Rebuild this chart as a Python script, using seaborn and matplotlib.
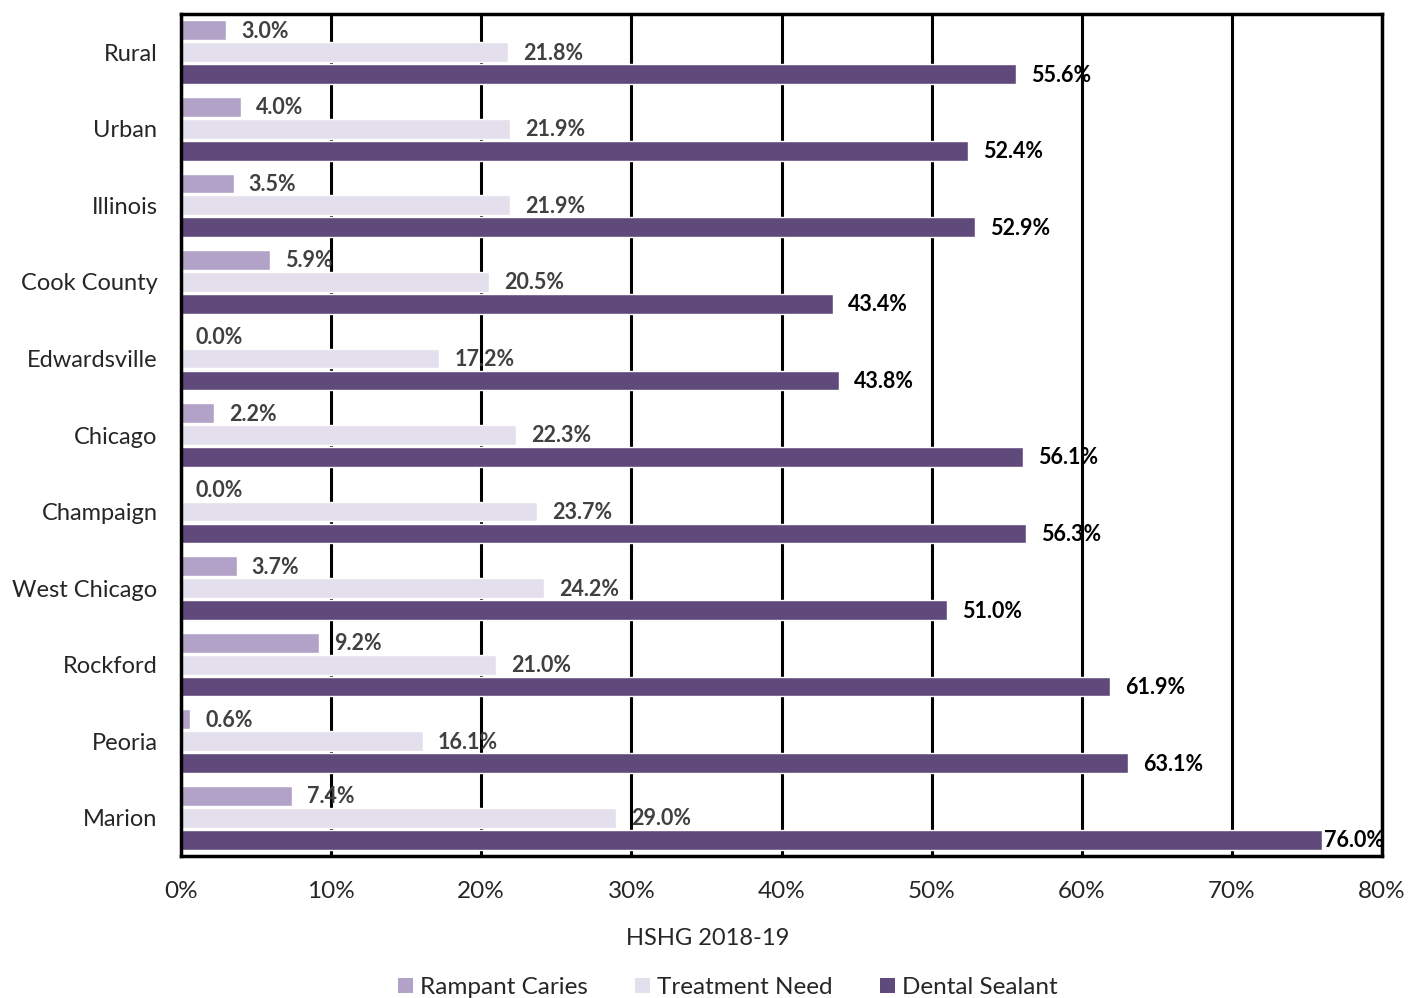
import matplotlib
matplotlib.use("Agg")
import matplotlib.pyplot as plt
import seaborn as sns
import pandas as pd
from matplotlib.patches import Patch

categories = ["Rural", "Urban", "Illinois", "Cook County", "Edwardsville", "Chicago",
              "Champaign", "West Chicago", "Rockford", "Peoria", "Marion"]
rampant_caries = [3.0, 4.0, 3.5, 5.9, 0.0, 2.2, 0.0, 3.7, 9.2, 0.6, 7.4]
treatment_need = [21.8, 21.9, 21.9, 20.5, 17.2, 22.3, 23.7, 24.2, 21.0, 16.1, 29.0]
dental_sealant = [55.6, 52.4, 52.9, 43.4, 43.8, 56.1, 56.3, 51.0, 61.9, 63.1, 76.0]
series_names = ["Rampant Caries", "Treatment Need", "Dental Sealant"]
x_ticks = [0, 10, 20, 30, 40, 50, 60, 70, 80]
x_label = "HSHG 2018-19"

colors = ["#B3A2C7", "#E4DFEC", "#604A7B"]
label_colors = ["#404040", "#404040", "#000000"]

sns.set_style("white")
plt.rcParams["font.family"] = ["Lato", "DejaVu Sans"]

rows = []
for name, vals in zip(series_names, [rampant_caries, treatment_need, dental_sealant]):
    for c, v in zip(categories, vals):
        rows.append({"Category": c, "Measure": name, "Value": v})
df = pd.DataFrame(rows)

fig = plt.figure(figsize=(14.08, 9.98), dpi=100)
ax = fig.add_axes([181/1408, 1 - 856/998, (1382 - 181)/1408, (856 - 14)/998])

sns.barplot(data=df, y="Category", x="Value", hue="Measure", order=categories,
            hue_order=series_names, palette=colors, orient="h", ax=ax,
            width=0.86, gap=0.1, legend=False, saturation=1, zorder=2)

ax.set_xlim(0, 80)
ax.set_ylim(len(categories) - 0.5, -0.5)
ax.set_xticks(x_ticks)
ax.set_xticklabels([f"{t}%" for t in x_ticks], fontsize=17.5)
ax.tick_params(axis="y", labelsize=17, length=0, pad=17)
ax.tick_params(axis="x", length=4, width=2, pad=14, direction="out", color="black")
ax.set_ylabel("")
ax.set_xlabel(x_label, fontsize=17)
ax.xaxis.set_label_coords((708 - 181) / 1201, -0.085)

ax.grid(axis="x", color="black", linewidth=2.2, zorder=1)
ax.set_axisbelow(True)
for s in ax.spines.values():
    s.set_color("black")
    s.set_linewidth(2.5)

for cont, lc in zip(ax.containers, label_colors):
    for bar in cont:
        w = bar.get_width()
        yc = bar.get_y() + bar.get_height() / 2
        off = 15
        if w > 73:
            off = 2
        ax.annotate(f"{w:.1f}%", xy=(w, yc), xytext=(off, -1), textcoords="offset pixels",
                    ha="left", va="center", fontsize=15.5, fontweight="bold",
                    color=lc, zorder=5, annotation_clip=False)

handles = [Patch(facecolor=c, edgecolor="none") for c in colors]
fig.legend(handles, series_names, loc="lower center", bbox_to_anchor=(0.517, -0.022),
           ncol=3, frameon=False, fontsize=17.5, handlelength=0.6, handleheight=0.6,
           handletextpad=0.3, columnspacing=1.95)

fig.savefig("out.png", dpi=100)
